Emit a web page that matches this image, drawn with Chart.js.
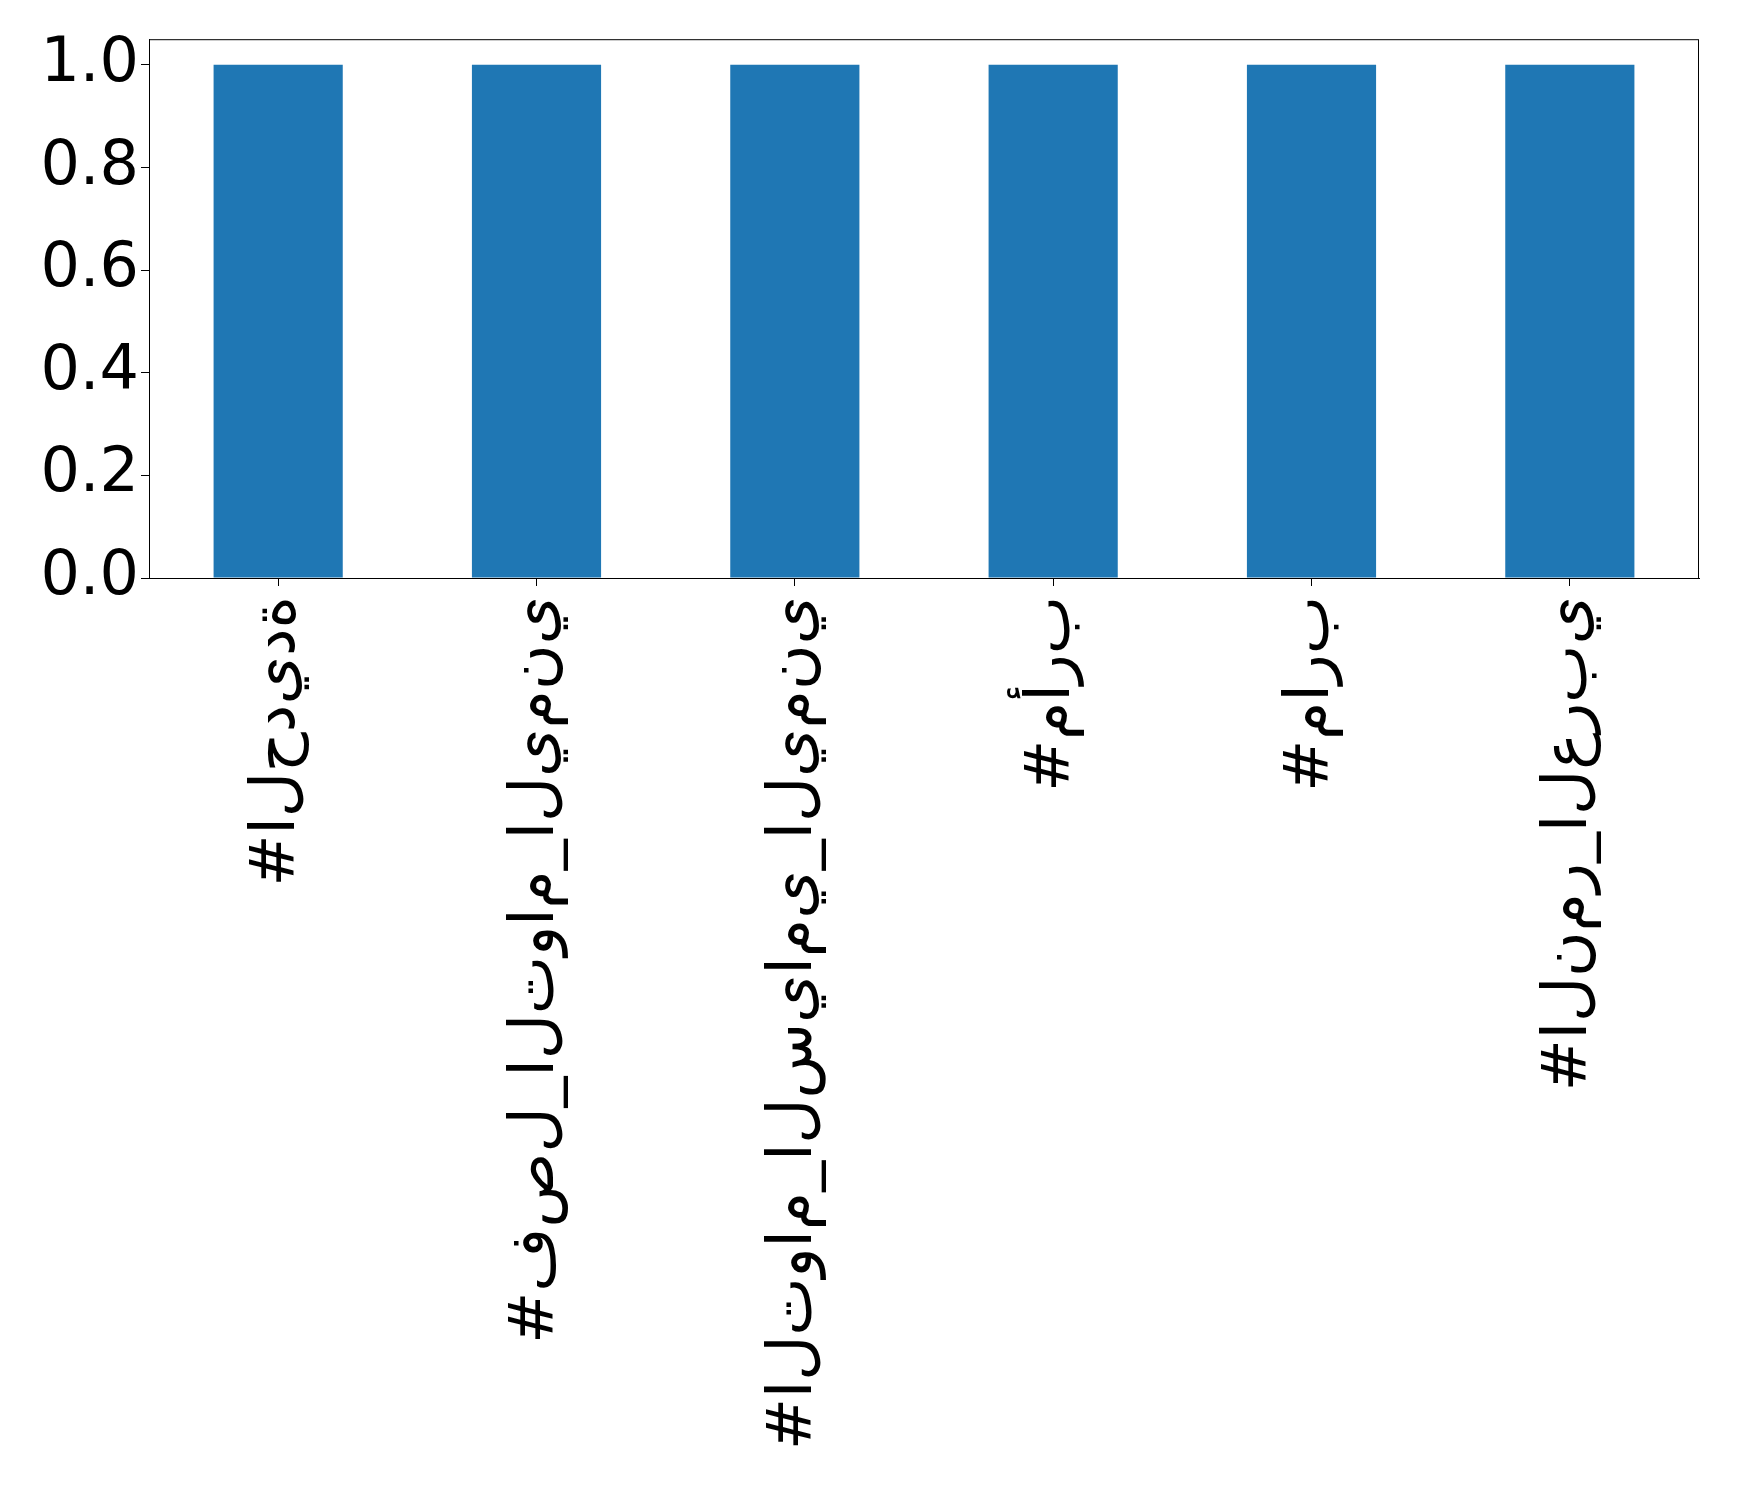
<!DOCTYPE html>
<html>
<head>
<meta charset="utf-8">
<script src="https://cdn.jsdelivr.net/npm/chart.js@4"></script>
<style>
  body { margin: 0; background: #fff; }
  #wrap { width: 1739px; height: 1489px; }
</style>
</head>
<body>
<div id="wrap"><canvas id="chart"></canvas></div>
<script>
// hashtags on the x axis
var labels = ["#الحديدة", "#فصل_التوام_اليمني", "#التوام_السيامي_اليمني", "#مأرب", "#مارب", "#النمر_العربي"];
var values = [1, 1, 1, 1, 1, 1];
var yTicks = [0, 0.2, 0.4, 0.6, 0.8, 1.0];

// the reference shows the letters unjoined, left to right
function isolated(s) {
  return "\u202D" + Array.from(s).join("\u200C") + "\u202C";
}

// frame around the plot area
var frame = {
  id: 'frame',
  afterDraw: function(chart) {
    var a = chart.chartArea, ctx = chart.ctx;
    ctx.save();
    ctx.strokeStyle = '#000';
    ctx.lineWidth = 1;
    ctx.strokeRect(a.left + 0.5, a.top + 0.5, a.right - a.left - 1, a.bottom - a.top);
    ctx.restore();
  }
};

new Chart(document.getElementById("chart"), {
  type: 'bar',
  data: {
    labels: labels,
    datasets: [{
      label: "",
      backgroundColor: "#1f77b4",
      data: values,
      barPercentage: 0.5,
      categoryPercentage: 1.0
    }]
  },
  options: {
    responsive: true,
    maintainAspectRatio: false,
    animation: false,
    layout: { padding: { top: 39, right: 40, left: 0, bottom: 0 } },
    plugins: { legend: { display: false }, tooltip: { enabled: false } },
    scales: {
      x: {
        offset: true,
        grid: { drawOnChartArea: false, drawTicks: true, tickLength: 8, tickColor: '#000', offset: false },
        border: { display: true, color: '#000' },
        ticks: {
          maxRotation: 90, minRotation: 90, autoSkip: false, padding: 10,
          color: '#000',
          font: { family: 'DejaVu Sans', size: 62 },
          callback: function(value) { return isolated(this.getLabelForValue(value)); }
        },
        afterFit: function(scale) { scale.height = 911; }
      },
      y: {
        min: 0, max: 1.05,
        grid: { drawOnChartArea: false, drawTicks: true, tickLength: 8, tickColor: '#000' },
        border: { display: true, color: '#000' },
        afterBuildTicks: function(scale) {
          scale.ticks = yTicks.map(function(v) { return { value: v }; });
        },
        ticks: {
          padding: 2,
          color: '#000',
          font: { family: 'DejaVu Sans', size: 62 },
          callback: function(value) { return value.toFixed(1); }
        },
        afterFit: function(scale) { scale.width = 149; }
      }
    }
  },
  plugins: [frame]
});
</script>
</body>
</html>
